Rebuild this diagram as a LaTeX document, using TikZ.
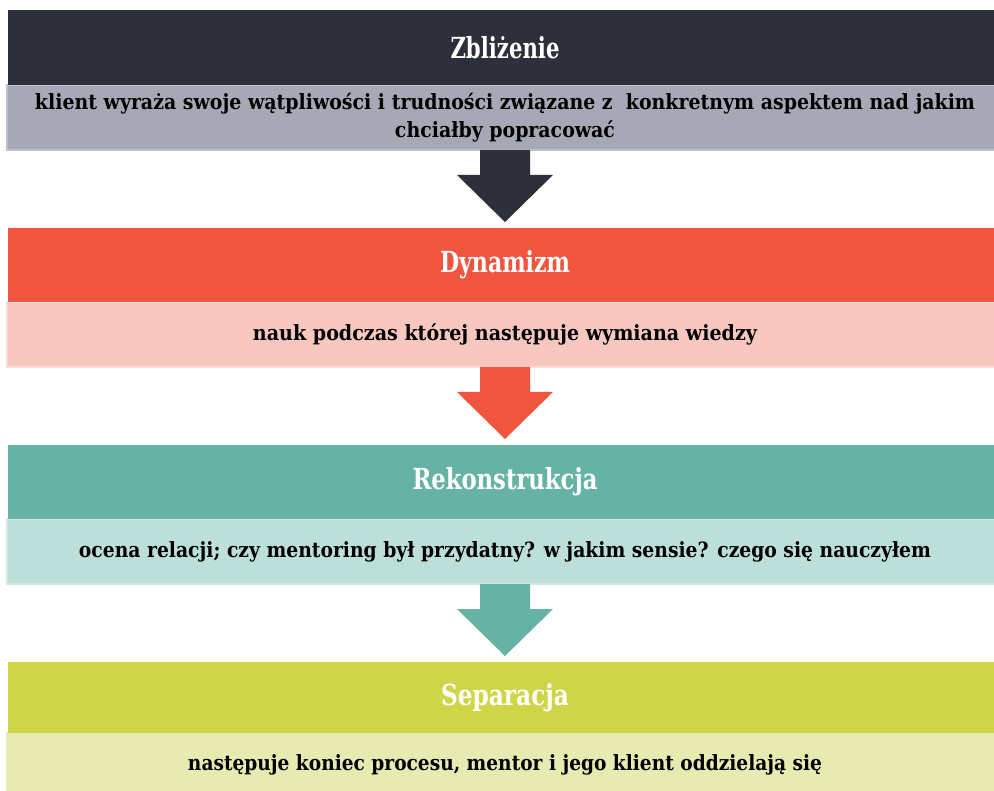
\documentclass[tikz,border=0pt]{standalone}
\usepackage{fontspec}
\usepackage{graphicx}
\setmainfont{DejaVu Serif}
\definecolor{cdark}{HTML}{2D2F3B}
\definecolor{cgrey}{HTML}{A6A8B5}
\definecolor{cgreyb}{HTML}{BEC0CC}
\definecolor{cred}{HTML}{F0563F}
\definecolor{cpink}{HTML}{F8C7C0}
\definecolor{cpinkb}{HTML}{FBDCD7}
\definecolor{cteal}{HTML}{66B3A6}
\definecolor{clteal}{HTML}{BDDFD9}
\definecolor{ctealb}{HTML}{CFE8E3}
\definecolor{cyel}{HTML}{CED647}
\definecolor{clyel}{HTML}{E7EBB2}
\newcommand{\hw}[2]{\resizebox{#1pt}{\height}{#2}}
\newcommand{\blockarrow}[3]{%
  \fill[#3] ([xshift=-25pt]#1.south) -- ([xshift=-25pt,yshift=-25pt]#1.south)
    -- ([xshift=-48pt,yshift=-25pt]#1.south) -- ([yshift=6pt]#2.north)
    -- ([xshift=48pt,yshift=-25pt]#1.south) -- ([xshift=25pt,yshift=-25pt]#1.south)
    -- ([xshift=25pt]#1.south) -- cycle;}
\begin{document}
\begin{tikzpicture}[x=1pt,y=-1pt,
  hdr/.style={minimum width=994pt, minimum height=75pt, inner sep=0pt, outer sep=0pt,
    anchor=north, text=white, font=\fontsize{29}{32}\selectfont\bfseries},
  lite/.style={minimum width=996pt, inner sep=0pt, outer sep=0pt, line width=2pt,
    anchor=north, align=center, text=black, font=\fontsize{21}{28}\selectfont\bfseries}]
\useasboundingbox[fill=white] (0,0) rectangle (994,791);
% light boxes
\node[lite, fill=cgrey, draw=cgreyb, minimum height=65pt] (l1) at (505,85)
  {\hw{940}{klient wyraża swoje wątpliwości i trudności związane z\ \ konkretnym aspektem nad jakim}\\
   \hw{220}{chciałby popracować}};
\node[lite, fill=cpink, draw=cpinkb, minimum height=65pt] (l2) at (505,302)
  {\hw{504}{nauk podczas której następuje wymiana wiedzy}};
\node[lite, fill=clteal, draw=ctealb, minimum height=65pt] (l3) at (505,519)
  {\hw{852}{ocena relacji; czy mentoring był przydatny? w jakim sensie? czego się nauczyłem}};
\node[lite, fill=clyel, draw=clyel, minimum height=64pt] (l4) at (505,733)
  {\hw{634}{następuje koniec procesu, mentor i jego klient oddzielają się}};
% headers
\node[hdr, fill=cdark] (h1) at (505,10) {\hw{109}{Zbliżenie}};
\node[hdr, fill=cred, minimum height=74pt] (h2) at (505,228) {\hw{130}{Dynamizm}};
\node[hdr, fill=cteal, minimum height=74pt] (h3) at (505,445) {\hw{185}{Rekonstrukcja}};
\node[hdr, fill=cyel, minimum height=71pt] (h4) at (505,662) {\hw{128}{Separacja}};
% arrows
\blockarrow{l1}{h2}{cdark}
\blockarrow{l2}{h3}{cred}
\blockarrow{l3}{h4}{cteal}
\end{tikzpicture}
\end{document}
